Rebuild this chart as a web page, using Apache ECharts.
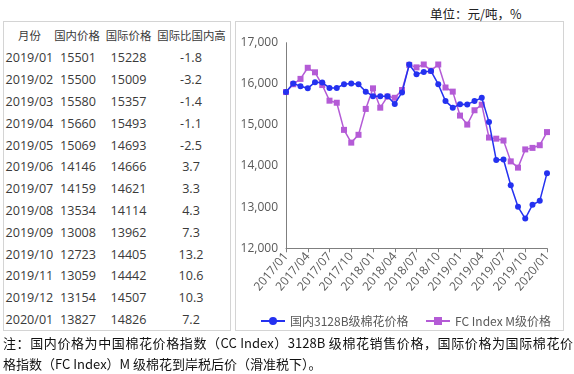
<!DOCTYPE html>
<html>
<head>
<meta charset="utf-8">
<script src="https://cdn.jsdelivr.net/npm/echarts@6/dist/echarts.min.js"></script>
<style>
  html, body { margin: 0; padding: 0; background: #fff; }
  body { width: 574px; height: 374px; position: relative; overflow: hidden; font-family: "Noto Sans CJK SC", "Noto Sans", sans-serif; }
  .box { position: absolute; border: 1px solid #d4d4d4; box-sizing: border-box; }
  #unit { position: absolute; left: 430px; top: 4px; font-size: 12.5px; color: #222; white-space: nowrap; }
  .cell { position: absolute; transform: translate(-50%, -50%); white-space: nowrap; color: #3a3a3a; font-family: "Open Sans", "Noto Sans", sans-serif; font-size: 12.6px; line-height: 16px; }
  .cell.l { transform: translate(0, -50%); }
  .cell.h { font-family: "Noto Sans CJK SC", sans-serif; font-size: 11.4px; }
  .note { position: absolute; left: 3px; font-size: 13px; line-height: 18px; color: #111; white-space: nowrap; }
  #note1 { top: 334px; width: 570px; text-align: justify; text-align-last: justify; white-space: normal; height: 18px; overflow: hidden; }
  #note2 { top: 355px; }
  #chart { position: absolute; left: 0; top: 0; width: 574px; height: 374px; }
</style>
</head>
<body>
<div class="box" style="left:3px;top:21px;width:228px;height:310px;"></div>
<div class="box" style="left:235px;top:21px;width:329px;height:310px;"></div>
<div id="unit">单位：元/吨，%</div>
<div id="tbl"></div>
<div id="chart"></div>
<div class="note" id="note1">注：国内价格为中国棉花价格指数（CC Index）3128B 级棉花销售价格，国际价格为国际棉花价</div>
<div class="note" id="note2">格指数（FC Index）M 级棉花到岸税后价（滑准税下）。</div>
<script>
// ---- data ----
var months = [
  "2017/01","2017/02","2017/03","2017/04","2017/05","2017/06","2017/07","2017/08","2017/09","2017/10","2017/11","2017/12",
  "2018/01","2018/02","2018/03","2018/04","2018/05","2018/06","2018/07","2018/08","2018/09","2018/10","2018/11","2018/12",
  "2019/01","2019/02","2019/03","2019/04","2019/05","2019/06","2019/07","2019/08","2019/09","2019/10","2019/11","2019/12",
  "2020/01"
];
var domestic = [
  15800, 16010, 15940, 15890, 16040, 16030, 15900, 15900, 15990, 16010, 15990, 15810,
  15700, 15700, 15700, 15510, 15790, 16470, 16230, 16290, 16310, 15990, 15580, 15420,
  15501, 15500, 15580, 15660, 15069, 14146, 14159, 13534, 13008, 12723, 13059, 13154,
  13827
];
var international = [
  15800, 15990, 16120, 16390, 16280, 15970, 15590, 15540, 14880, 14570, 14760, 15390,
  15890, 15420, 15690, 15660, 15850, 16460, 16400, 16470, 16320, 16470, 15910, 15810,
  15228, 15009, 15357, 15493, 14693, 14666, 14621, 14114, 13962, 14405, 14442, 14507,
  14826
];
var tableMonths = ["2019/01","2019/02","2019/03","2019/04","2019/05","2019/06","2019/07","2019/08","2019/09","2019/10","2019/11","2019/12","2020/01"];
var tableDomestic = [15501,15500,15580,15660,15069,14146,14159,13534,13008,12723,13059,13154,13827];
var tableIntl = [15228,15009,15357,15493,14693,14666,14621,14114,13962,14405,14442,14507,14826];
var tableDiff = ["-1.8","-3.2","-1.4","-1.1","-2.5","3.7","3.3","4.3","7.3","13.2","10.6","10.3","7.2"];
var tableHeader = ["月份","国内价格","国际价格","国际比国内高"];
var seriesNames = ["国内3128B级棉花价格","FC Index M级价格"];
var yTicks = [12000, 13000, 14000, 15000, 16000, 17000];

// ---- table (layout only) ----
(function () {
  var t = document.getElementById("tbl");
  var headerX = [29.5, 77, 128.5, 191.5];
  var colX = [5.5, 78, 128.5, 191];
  var headerY = 35, rowY0 = 58.3, rowH = 21.8;
  var html = "";
  tableHeader.forEach(function (s, i) {
    html += '<div class="cell h" style="left:' + headerX[i] + 'px;top:' + headerY + 'px">' + s + '</div>';
  });
  for (var i = 0; i < tableMonths.length; i++) {
    var y = rowY0 + i * rowH;
    html += '<div class="cell l" style="left:' + colX[0] + 'px;top:' + y + 'px">' + tableMonths[i] + '</div>';
    html += '<div class="cell" style="left:' + colX[1] + 'px;top:' + y + 'px">' + tableDomestic[i] + '</div>';
    html += '<div class="cell" style="left:' + colX[2] + 'px;top:' + y + 'px">' + tableIntl[i] + '</div>';
    html += '<div class="cell" style="left:' + colX[3] + 'px;top:' + y + 'px">' + tableDiff[i] + '</div>';
  }
  t.innerHTML = html;
})();

// ---- chart ----
var legendText = { fontFamily: "Noto Sans CJK SC", fontSize: 12, color: "#595959" };
var chart = echarts.init(document.getElementById("chart"), null, { renderer: "canvas" });
chart.setOption({
  backgroundColor: "transparent",
  animation: false,
  grid: { left: 286, right: 27, top: 42.7, bottom: 125.7, containLabel: false },
  legend: [
    { left: 255, top: 310, itemWidth: 24, itemHeight: 10, textStyle: legendText, data: [seriesNames[0]] },
    { left: 420, top: 310, itemWidth: 24, itemHeight: 10, textStyle: legendText, data: [seriesNames[1]] }
  ],
  xAxis: {
    type: "category",
    data: months,
    boundaryGap: false,
    axisLine: { lineStyle: { color: "#7f7f7f", width: 1 } },
    axisTick: { show: true, interval: 2, length: 4, lineStyle: { color: "#7f7f7f" } },
    axisLabel: { interval: 2, rotate: 50, margin: 6, fontFamily: "Open Sans", fontSize: 12, color: "#595959" },
    splitLine: { show: false }
  },
  yAxis: {
    type: "value",
    min: yTicks[0], max: yTicks[yTicks.length - 1], interval: 1000,
    axisLine: { show: true, lineStyle: { color: "#7f7f7f", width: 1 } },
    axisTick: { show: false },
    axisLabel: {
      margin: 8, fontFamily: "Open Sans", fontSize: 12, color: "#595959",
      formatter: function (v) { return v.toLocaleString("en-US"); }
    },
    splitLine: { show: false }
  },
  series: [
    {
      name: seriesNames[0], type: "line", data: domestic,
      symbol: "circle", symbolSize: 6, showSymbol: true, showAllSymbol: true,
      itemStyle: { color: "#2431f0" },
      lineStyle: { color: "#2431f0", width: 1.5 },
      z: 3
    },
    {
      name: seriesNames[1], type: "line", data: international,
      symbol: "rect", symbolSize: 6, showSymbol: true, showAllSymbol: true,
      itemStyle: { color: "#b45bd6" },
      lineStyle: { color: "#b45bd6", width: 1.5 },
      z: 2
    }
  ]
});
</script>
</body>
</html>
